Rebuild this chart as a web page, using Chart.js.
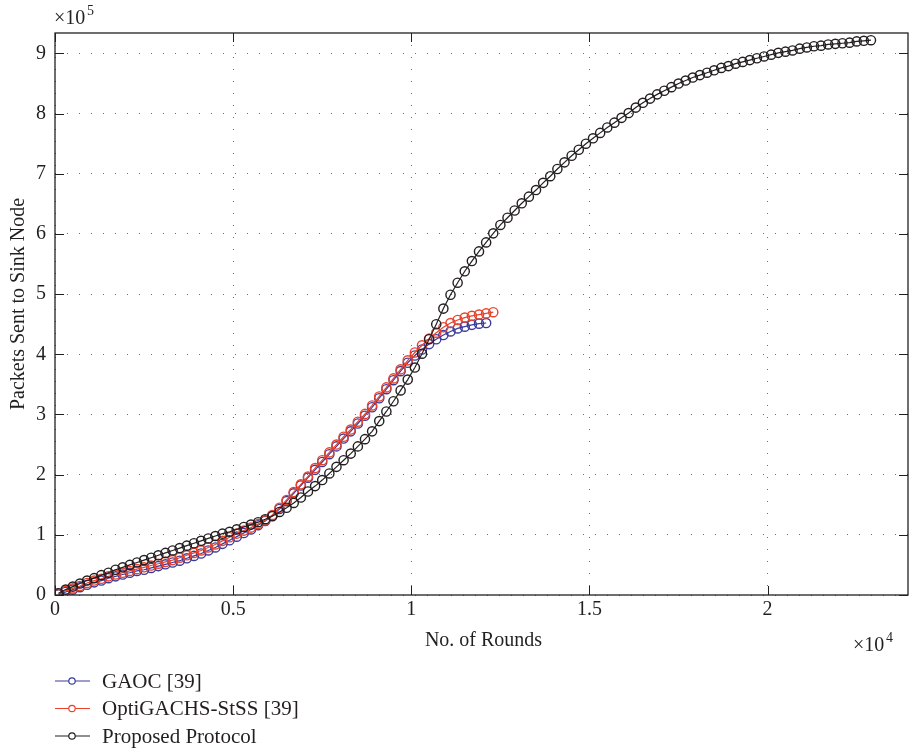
<!DOCTYPE html>
<html>
<head>
<meta charset="utf-8">
<script src="https://cdn.jsdelivr.net/npm/chart.js@4/dist/chart.umd.min.js"></script>
<style>
    body { margin: 0; background: #fff; }
    canvas { display: block; }
</style>
</head>
<body>
<canvas id="packetsChart" width="914" height="749"></canvas>
<script>
// Rounds at which every protocol was sampled
const rounds = [
    100, 300, 500, 700, 900, 1100, 1300, 1500, 1700, 1900,
    2100, 2300, 2500, 2700, 2900, 3100, 3300, 3500, 3700, 3900,
    4100, 4300, 4500, 4700, 4900, 5100, 5300, 5500, 5700, 5900,
    6100, 6300, 6500, 6700, 6900, 7100, 7300, 7500, 7700, 7900,
    8100, 8300, 8500, 8700, 8900, 9100, 9300, 9500, 9700, 9900,
    10100, 10300, 10500, 10700, 10900, 11100, 11300, 11500, 11700, 11900,
    12100, 12300, 12500, 12700, 12900, 13100, 13300, 13500, 13700, 13900,
    14100, 14300, 14500, 14700, 14900, 15100, 15300, 15500, 15700, 15900,
    16100, 16300, 16500, 16700, 16900, 17100, 17300, 17500, 17700, 17900,
    18100, 18300, 18500, 18700, 18900, 19100, 19300, 19500, 19700, 19900,
    20100, 20300, 20500, 20700, 20900, 21100, 21300, 21500, 21700, 21900,
    22100, 22300, 22500, 22700, 22900
];

// Packets delivered to the sink, in units of 1e5 (the axis multiplier)
const gaoc = [
    0.01, 0.05, 0.09, 0.13, 0.17, 0.21, 0.24, 0.28, 0.31, 0.34,
    0.37, 0.40, 0.42, 0.45, 0.48, 0.51, 0.54, 0.57, 0.61, 0.65,
    0.69, 0.74, 0.79, 0.85, 0.91, 0.97, 1.03, 1.09, 1.16, 1.23,
    1.32, 1.43, 1.56, 1.69, 1.82, 1.95, 2.08, 2.21, 2.34, 2.47,
    2.60, 2.72, 2.85, 2.98, 3.12, 3.27, 3.42, 3.57, 3.72, 3.86,
    3.98, 4.08, 4.17, 4.25, 4.32, 4.38, 4.43, 4.46, 4.49, 4.51,
    4.52
];

const optiGachs = [
    0.02, 0.07, 0.11, 0.15, 0.20, 0.24, 0.27, 0.31, 0.34, 0.37,
    0.40, 0.43, 0.46, 0.49, 0.52, 0.55, 0.58, 0.62, 0.66, 0.70,
    0.74, 0.79, 0.84, 0.90, 0.96, 1.02, 1.07, 1.12, 1.18, 1.24,
    1.33, 1.45, 1.58, 1.71, 1.84, 1.97, 2.11, 2.24, 2.37, 2.50,
    2.63, 2.75, 2.88, 3.01, 3.15, 3.30, 3.45, 3.60, 3.75, 3.90,
    4.03, 4.15, 4.26, 4.36, 4.45, 4.52, 4.57, 4.61, 4.64, 4.66,
    4.68, 4.70
];

const proposed = [
    0.03, 0.09, 0.14, 0.19, 0.24, 0.28, 0.33, 0.37, 0.42, 0.46,
    0.50, 0.54, 0.58, 0.62, 0.66, 0.70, 0.74, 0.78, 0.82, 0.86,
    0.90, 0.94, 0.98, 1.02, 1.05, 1.09, 1.13, 1.17, 1.21, 1.26,
    1.31, 1.38, 1.45, 1.53, 1.62, 1.72, 1.81, 1.91, 2.02, 2.13,
    2.24, 2.35, 2.47, 2.59, 2.72, 2.89, 3.05, 3.22, 3.40, 3.58,
    3.78, 4.01, 4.25, 4.50, 4.76, 4.99, 5.19, 5.38, 5.55, 5.71,
    5.86, 6.01, 6.15, 6.27, 6.39, 6.51, 6.62, 6.73, 6.85, 6.96,
    7.08, 7.19, 7.30, 7.40, 7.50, 7.59, 7.68, 7.77, 7.85, 7.93,
    8.01, 8.10, 8.18, 8.25, 8.32, 8.38, 8.44, 8.50, 8.55, 8.60,
    8.64, 8.68, 8.72, 8.76, 8.79, 8.83, 8.86, 8.89, 8.92, 8.95,
    8.98, 9.01, 9.03, 9.05, 9.08, 9.10, 9.12, 9.13, 9.15, 9.16,
    9.17, 9.18, 9.20, 9.21, 9.22
];

const seriesNames = ["GAOC [39]", "OptiGACHS-StSS [39]", "Proposed Protocol"];
const seriesColors = ["#3b3b9c", "#e8422c", "#231f20"];

const xTicks = [0, 5000, 10000, 15000, 20000];
const yTicks = [0, 1, 2, 3, 4, 5, 6, 7, 8, 9];

const FONT = "'Liberation Serif', 'Times New Roman', serif";
const TEXT = "#231f20";

function toPoints(values) {
    return values.map((v, i) => ({ x: rounds[i], y: v }));
}

function makeDataset(idx, values) {
    return {
        label: seriesNames[idx],
        data: toPoints(values),
        borderColor: seriesColors[idx],
        backgroundColor: "transparent",
        borderWidth: 1.2,
        pointStyle: "circle",
        pointRadius: 4.6,
        pointBorderWidth: 1.4,
        pointBorderColor: seriesColors[idx],
        pointBackgroundColor: "transparent",
        tension: 0,
        order: 3 - idx, // proposed drawn on top
    };
}

// box, inner ticks, multipliers, titles and the legend underneath
const framePlugin = {
    id: "frame",
    afterDraw(chart) {
        const ctx = chart.ctx;
        const a = chart.chartArea;
        const xs = chart.scales.x;
        const ys = chart.scales.y;
        const tl = 9;

        ctx.save();
        ctx.strokeStyle = TEXT;
        ctx.lineWidth = 1.3;
        ctx.strokeRect(a.left, a.top, a.right - a.left, a.bottom - a.top);

        ctx.lineWidth = 1;
        ctx.beginPath();
        xTicks.forEach((t) => {
            const px = Math.round(xs.getPixelForValue(t)) + 0.5;
            ctx.moveTo(px, a.bottom);
            ctx.lineTo(px, a.bottom - tl);
            ctx.moveTo(px, a.top);
            ctx.lineTo(px, a.top + tl);
        });
        yTicks.forEach((t) => {
            const py = Math.round(ys.getPixelForValue(t)) + 0.5;
            ctx.moveTo(a.left, py);
            ctx.lineTo(a.left + tl, py);
            ctx.moveTo(a.right, py);
            ctx.lineTo(a.right - tl, py);
        });
        ctx.stroke();

        ctx.fillStyle = TEXT;
        ctx.textBaseline = "alphabetic";

        // axis multipliers
        ctx.textAlign = "left";
        ctx.font = "20px " + FONT;
        ctx.fillText("\u00d710", 54, 24);
        ctx.font = "14px " + FONT;
        ctx.fillText("5", 87, 15);
        ctx.font = "20px " + FONT;
        ctx.fillText("\u00d710", 853, 651);
        ctx.font = "14px " + FONT;
        ctx.fillText("4", 886, 642);

        // axis titles
        ctx.font = "20px " + FONT;
        ctx.textAlign = "center";
        ctx.fillText("No. of Rounds", (a.left + a.right) / 2 + 2, 646);
        ctx.save();
        ctx.translate(24, 304);
        ctx.rotate(-Math.PI / 2);
        ctx.fillText("Packets Sent to Sink Node", 0, 0);
        ctx.restore();

        // legend
        ctx.textAlign = "left";
        ctx.textBaseline = "middle";
        ctx.font = "21px " + FONT;
        seriesNames.forEach((name, i) => {
            const y = 681 + i * 27.5;
            ctx.strokeStyle = seriesColors[i];
            ctx.lineWidth = 1.2;
            ctx.beginPath();
            ctx.moveTo(55, y);
            ctx.lineTo(90, y);
            ctx.stroke();
            ctx.beginPath();
            ctx.arc(72, y, 3.2, 0, Math.PI * 2);
            ctx.fillStyle = "#fff";
            ctx.fill();
            ctx.stroke();
            ctx.fillStyle = TEXT;
            ctx.fillText(name, 102, y + 1);
        });
        ctx.restore();
    },
};

const ctx = document.getElementById("packetsChart").getContext("2d");
new Chart(ctx, {
    type: "line",
    data: {
        datasets: [
            makeDataset(0, gaoc),
            makeDataset(1, optiGachs),
            makeDataset(2, proposed),
        ],
    },
    options: {
        responsive: false,
        animation: false,
        layout: { padding: { top: 33, right: 1, bottom: 0, left: 0 } },
        scales: {
            x: {
                type: "linear",
                min: 0,
                max: 23940,
                afterBuildTicks: (s) => {
                    s.ticks = xTicks.map((v) => ({ value: v }));
                },
                afterFit: (s) => {
                    s.height = 154;
                },
                ticks: {
                    padding: 3,
                    color: TEXT,
                    font: { family: FONT, size: 20 },
                    maxRotation: 0,
                    callback: (v) => String(v / 10000),
                },
                grid: {
                    drawTicks: false,
                    color: "rgba(60,60,60,0.75)",
                    lineWidth: 1,
                },
                border: { display: false, dash: [1, 11] },
            },
            y: {
                type: "linear",
                min: 0,
                max: 9.34,
                afterBuildTicks: (s) => {
                    s.ticks = yTicks.map((v) => ({ value: v }));
                },
                afterFit: (s) => {
                    s.width = 55;
                },
                ticks: {
                    padding: 9,
                    color: TEXT,
                    font: { family: FONT, size: 20 },
                },
                grid: {
                    drawTicks: false,
                    color: "rgba(60,60,60,0.75)",
                    lineWidth: 1,
                },
                border: { display: false, dash: [1, 11] },
            },
        },
        plugins: {
            legend: { display: false },
            tooltip: { enabled: false },
        },
    },
    plugins: [framePlugin],
});
</script>
</body>
</html>
